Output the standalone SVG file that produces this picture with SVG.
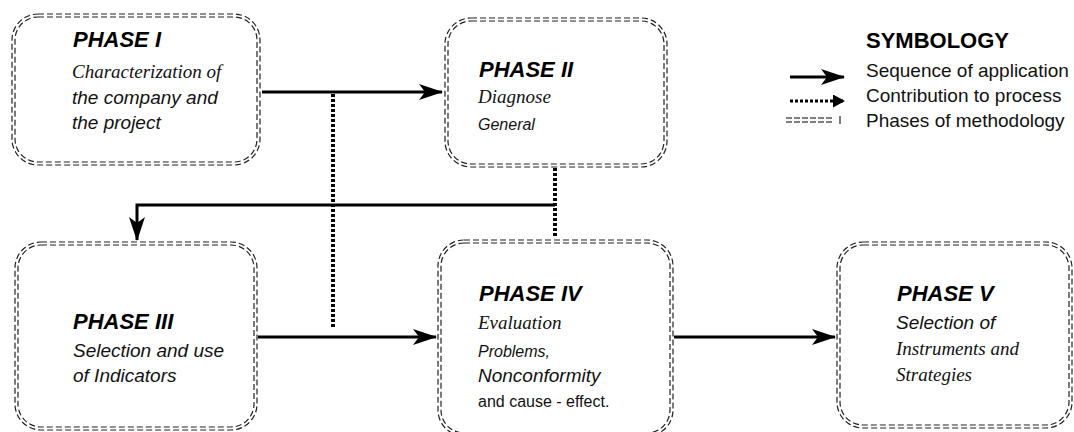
<svg xmlns="http://www.w3.org/2000/svg" width="1074" height="432" viewBox="0 0 1074 432">
<style>
.b{fill:none;stroke:#222;stroke-width:1.2;stroke-dasharray:6 3}
.h{font-family:"Liberation Sans",Arial,sans-serif;font-weight:bold;font-style:italic;font-size:22px;fill:#000}
.si{font-family:"Liberation Serif","Times New Roman",serif;font-style:italic;font-size:19px;fill:#111}
.ai{font-family:"Liberation Sans",Arial,sans-serif;font-style:italic;font-size:19px;fill:#111}
.a{font-family:"Liberation Sans",Arial,sans-serif;font-size:19px;fill:#111}
.c{fill:none;stroke:#000;stroke-width:3}
.d{fill:none;stroke:#000;stroke-width:4;stroke-dasharray:3 2}
</style>
<defs>
<marker id="ar" markerWidth="12" markerHeight="13" refX="11" refY="6.5" orient="auto" markerUnits="userSpaceOnUse" viewBox="0 0 12 13">
<path d="M0,0 L12,6.5 L0,13 Z" fill="#000"/>
</marker>
<marker id="ar2" markerWidth="24" markerHeight="16" refX="23" refY="8" orient="auto" markerUnits="userSpaceOnUse" viewBox="0 0 24 16">
<path d="M0,0 L24,8 L0,16 L6,8 Z" fill="#000"/>
</marker>
</defs>
<g id="phase1">
<rect class="b" x="12" y="14" width="248" height="151" rx="26"/>
<rect class="b" x="15" y="17" width="242" height="145" rx="23"/>
<text class="h" x="73" y="47">PHASE I</text>
<text class="si" x="72" y="78">Characterization of</text>
<text class="ai" x="72" y="104">the company and</text>
<text class="ai" x="72" y="129">the project</text>
</g>
<g id="phase2">
<rect class="b" x="445" y="18" width="222" height="149" rx="26"/>
<rect class="b" x="448" y="21" width="216" height="143" rx="23"/>
<text class="h" x="479" y="77">PHASE II</text>
<text class="si" x="478" y="103">Diagnose</text>
<text class="ai" x="478" y="130" style="font-size:16px">General</text>
</g>
<g id="phase3">
<rect class="b" x="15" y="242" width="242" height="188" rx="26"/>
<rect class="b" x="18" y="245" width="236" height="182" rx="23"/>
<text class="h" x="73" y="329">PHASE III</text>
<text class="ai" x="73" y="357">Selection and use</text>
<text class="ai" x="73" y="382">of Indicators</text>
</g>
<g id="phase4">
<rect class="b" x="438" y="240" width="235" height="196" rx="26"/>
<rect class="b" x="441" y="243" width="229" height="190" rx="23"/>
<text class="h" x="479" y="301">PHASE IV</text>
<text class="si" x="478" y="329">Evaluation</text>
<text class="ai" x="478" y="357" style="font-size:16px">Problems,</text>
<text class="ai" x="478" y="382">Nonconformity</text>
<text class="a" x="478" y="407" style="font-size:16px">and cause - effect.</text>
</g>
<g id="phase5">
<rect class="b" x="837" y="242" width="235" height="186" rx="26"/>
<rect class="b" x="840" y="245" width="229" height="180" rx="23"/>
<text class="h" x="897" y="301">PHASE V</text>
<text class="ai" x="896" y="329">Selection of</text>
<text class="si" x="896" y="355">Instruments and</text>
<text class="si" x="896" y="381">Strategies</text>
</g>
<g id="connectors">
<line class="c" x1="262" y1="92" x2="442" y2="92" marker-end="url(#ar2)"/>
<line class="d" x1="333" y1="94" x2="333" y2="328"/>
<polyline class="c" points="555,205 137,205 137,240" marker-end="url(#ar2)"/>
<line class="d" x1="555" y1="168" x2="555" y2="236"/>
<line class="c" x1="258" y1="337" x2="436" y2="337" marker-end="url(#ar2)"/>
<line class="c" x1="674" y1="337" x2="835" y2="337" marker-end="url(#ar2)"/>
</g>
<g id="legend">
<text x="866" y="48" style="font-family:'Liberation Sans',Arial,sans-serif;font-weight:bold;font-size:22px;fill:#000">SYMBOLOGY</text>
<line class="c" x1="790" y1="77" x2="844" y2="77" marker-end="url(#ar2)"/>
<line x1="790" y1="101" x2="844" y2="101" style="stroke:#000;stroke-width:3;stroke-dasharray:3 2" marker-end="url(#ar)"/>
<line x1="786" y1="118" x2="834" y2="118" style="stroke:#000;stroke-width:1;stroke-dasharray:6 2"/>
<line x1="786" y1="122" x2="834" y2="122" style="stroke:#000;stroke-width:1;stroke-dasharray:6 2"/>
<line x1="840" y1="116" x2="840" y2="124" style="stroke:#000;stroke-width:1"/>
<text class="a" x="866" y="77">Sequence of application</text>
<text class="a" x="866" y="102">Contribution to process</text>
<text class="a" x="866" y="127">Phases of methodology</text>
</g>
</svg>
